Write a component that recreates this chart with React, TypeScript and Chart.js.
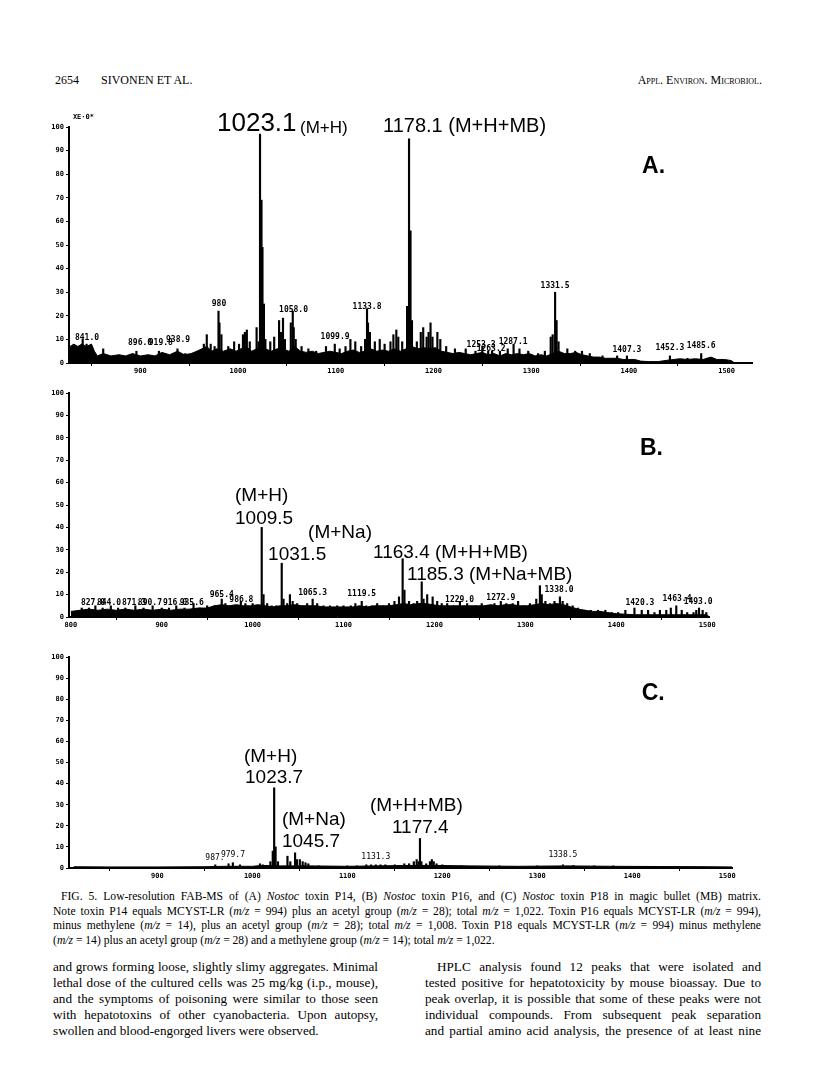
import React, { useEffect, useRef } from "react";
import { Chart, registerables } from "chart.js";
Chart.register(...registerables);

// ---------- shared axis values ----------
const yTicks = [0, 10, 20, 30, 40, 50, 60, 70, 80, 90, 100];
const xTicksA = [900, 1000, 1100, 1200, 1300, 1400, 1500];
const xTicksB = [800, 900, 1000, 1100, 1200, 1300, 1400, 1500];
const xTicksC = [900, 1000, 1100, 1200, 1300, 1400, 1500];
const xRangeA = [827, 1526];
const xRangeB = [798, 1502];
const xRangeC = [807, 1505];

// ---------- Panel A: Nostoc toxin P14 ----------
const peaksA: [number, number][] = [
  [841, 10], [845, 8], [862, 6], [896, 5], [919, 5], [925, 4], [938, 6], [946, 4], [958, 5],
  [965, 8], [968, 12], [972, 8], [976, 7], [980, 22], [981, 17], [983, 12], [990, 7], [996, 9],
  [1001, 8], [1005, 12], [1007, 13], [1009, 14], [1012, 9], [1019, 15], [1021, 9], [1022.5, 97],
  [1024, 69], [1025, 49], [1026.5, 25], [1028, 10], [1033, 9], [1037, 11], [1042, 18], [1044, 13],
  [1046, 19], [1048, 10], [1054, 17], [1056, 22], [1057, 15], [1059, 10], [1065, 7], [1072, 6],
  [1080, 5], [1090, 7], [1099, 8], [1104, 6], [1110, 7], [1115, 10], [1120, 9], [1126, 7],
  [1130, 10], [1132, 23], [1133, 17], [1135, 13], [1140, 9], [1145, 10], [1150, 8], [1156, 9],
  [1159, 12], [1162, 14], [1164, 11], [1168, 9], [1173, 24], [1174, 14], [1175, 95], [1176.5, 56],
  [1178, 18], [1183, 9], [1187, 13], [1189.5, 15], [1193, 11], [1195, 13], [1197, 17], [1199, 11],
  [1204, 13], [1207, 10], [1213, 7], [1222, 6], [1233, 6], [1243, 5], [1250, 7], [1256, 5],
  [1260, 5], [1268, 5], [1276, 6], [1282, 8], [1288, 6], [1297, 5], [1307, 4], [1314, 5],
  [1320, 11], [1322, 12], [1324.5, 30], [1326, 18], [1328, 9], [1337, 6], [1345, 5], [1352, 5],
  [1360, 4], [1373, 3], [1388, 3], [1398, 3], [1442, 3], [1460, 2], [1474, 4], [1480, 2],
];
const baselineA: [number, number][] = [
  [828, 7], [832, 8], [836, 7], [840, 8], [845, 7], [850, 8], [853, 5], [856, 3], [862, 4],
  [870, 3], [878, 3.5], [885, 3], [892, 4], [900, 3], [908, 3.5], [915, 3], [922, 4.5],
  [930, 3.5], [938, 5], [945, 3.5], [952, 4], [958, 5], [963, 6], [968, 7], [973, 5], [978, 6],
  [985, 5], [992, 6], [998, 5], [1003, 6], [1008, 7], [1014, 5], [1019, 6], [1023, 7],
  [1028, 6], [1034, 5], [1040, 6], [1046, 6], [1052, 5], [1058, 7], [1064, 5], [1070, 4.5],
  [1076, 5], [1082, 4], [1088, 4.5], [1094, 5], [1100, 4.5], [1106, 4], [1112, 5], [1118, 5.5],
  [1124, 4.5], [1130, 5], [1136, 6], [1142, 5], [1148, 5.5], [1154, 5], [1160, 6], [1166, 5],
  [1172, 6], [1178, 7], [1184, 6], [1190, 6.5], [1196, 6], [1202, 6.5], [1208, 5], [1214, 4.5],
  [1220, 4], [1226, 4.5], [1232, 4], [1238, 3.5], [1244, 4], [1250, 4.5], [1256, 3.5], [1262, 4],
  [1268, 3], [1274, 4], [1280, 3.5], [1286, 4], [1292, 3.5], [1298, 4], [1304, 3], [1310, 3.5],
  [1316, 3], [1322, 4], [1328, 5], [1334, 4], [1340, 4], [1346, 4.5], [1352, 3.5], [1358, 3],
  [1364, 2.5], [1370, 2.5], [1376, 2], [1382, 2], [1388, 2], [1394, 1.5], [1400, 1.5],
  [1406, 1.5], [1412, 0.8], [1420, 0.6], [1430, 0.6], [1440, 1.2], [1446, 1.5], [1452, 1.8],
  [1460, 1.5], [1468, 1.8], [1476, 1.5], [1484, 2.5], [1490, 1.5], [1498, 1.5], [1505, 1],
  [1508, 0],
];
const labelsA = [
  { text: "1023.1", mz: 978.5, level: 98.3, kind: "huge" },
  { text: "(M+H)", mz: 1063.4, level: 97.5, kind: "sub" },
  { text: "1178.1 (M+H+MB)", mz: 1148.4, level: 97.9, kind: "main" },
  { text: "A.", mz: 1413.5, level: 80.5, kind: "panel" },
  { text: "XE·0*", mz: 831, level: 103.4, kind: "note" },
  { text: "841.0", mz: 845.4, level: 9.7, kind: "small" },
  { text: "896.0", mz: 899.7, level: 7.6, kind: "small" },
  { text: "919.8", mz: 921, level: 7.6, kind: "small" },
  { text: "938.9", mz: 938.6, level: 9, kind: "small" },
  { text: "980", mz: 980.5, level: 24.3, kind: "small" },
  { text: "1058.0", mz: 1056.8, level: 21.6, kind: "small" },
  { text: "1099.9", mz: 1099.3, level: 10, kind: "small" },
  { text: "1133.8", mz: 1132, level: 22.8, kind: "small" },
  { text: "1253.3", mz: 1248.7, level: 6.9, kind: "small" },
  { text: "1263.2", mz: 1259, level: 5.2, kind: "small" },
  { text: "1287.1", mz: 1281.5, level: 8, kind: "small" },
  { text: "1331.5", mz: 1324.4, level: 31.8, kind: "small" },
  { text: "1407.3", mz: 1398, level: 4.7, kind: "small" },
  { text: "1452.3", mz: 1442, level: 5.5, kind: "small" },
  { text: "1485.6", mz: 1473.9, level: 6.4, kind: "small" },
];

// ---------- Panel B: Nostoc toxin P16 ----------
const peaksB: [number, number][] = [
  [812, 4], [820, 4], [827, 5], [835, 4], [844, 5], [852, 4], [860, 4], [871, 5], [880, 4],
  [890, 5], [900, 4], [908, 4], [916, 5], [925, 4], [935, 6], [942, 4], [950, 5], [958, 5],
  [966, 8], [970, 6], [978, 5], [987, 7], [992, 6], [1000, 6], [1005, 5], [1010, 40], [1012, 10],
  [1016, 6], [1021, 5], [1026, 5], [1032, 24], [1034, 8], [1038, 6], [1041, 10], [1044, 7],
  [1049, 6], [1055, 5], [1060, 6], [1066, 8], [1071, 6], [1078, 5], [1085, 5], [1093, 5],
  [1100, 5], [1108, 5], [1113, 6], [1120, 7], [1125, 5], [1131, 5], [1137, 6], [1143, 5],
  [1150, 6], [1156, 7], [1161, 9], [1165, 26], [1167, 12], [1172, 7], [1177, 6], [1181, 7],
  [1186, 15.7], [1188, 8], [1192, 10], [1198, 9], [1203, 7], [1208, 6], [1214, 6], [1221, 5],
  [1228, 7], [1236, 6], [1245, 5], [1252, 6], [1260, 5], [1266, 6], [1273, 7], [1279, 6],
  [1286, 6], [1292, 7], [1298, 5], [1305, 6], [1312, 8], [1316, 14], [1318, 10], [1322, 7],
  [1327, 6], [1332, 7], [1338, 9], [1341, 7], [1346, 6], [1352, 5], [1358, 4], [1365, 3],
  [1372, 3], [1380, 3], [1388, 3], [1395, 2], [1402, 2], [1410, 3], [1420, 4], [1428, 3],
  [1435, 3], [1442, 2], [1448, 3], [1455, 3], [1460, 4], [1466, 5], [1472, 3], [1478, 2],
  [1485, 2], [1488, 3], [1491, 4], [1495, 3], [1499, 2],
];
const baselineB: [number, number][] = [
  [800, 2.5], [810, 3], [820, 3.5], [830, 3], [840, 3.5], [850, 3], [860, 3.5], [870, 3],
  [880, 3.5], [890, 3], [900, 3.5], [910, 3], [920, 3.5], [930, 3.5], [940, 4], [950, 4],
  [958, 5], [966, 5.5], [974, 5], [982, 5.5], [990, 5], [998, 5], [1006, 5.5], [1014, 5],
  [1022, 4.5], [1030, 5], [1038, 5], [1046, 5.5], [1054, 5], [1062, 5], [1070, 5], [1078, 4.5],
  [1086, 4.5], [1094, 4.5], [1102, 4.5], [1110, 4.5], [1118, 5], [1126, 4.5], [1134, 5],
  [1142, 5], [1150, 5], [1158, 5.5], [1166, 6], [1174, 5.5], [1182, 6], [1190, 6], [1198, 5.5],
  [1206, 5], [1214, 5], [1222, 5], [1230, 5], [1238, 5], [1246, 5], [1254, 5], [1262, 5.5],
  [1270, 5], [1278, 5.5], [1286, 5.5], [1294, 5], [1302, 5], [1310, 5.5], [1318, 6],
  [1326, 5.5], [1334, 6], [1342, 5.5], [1350, 4.5], [1358, 3.5], [1366, 3], [1374, 2.5],
  [1382, 2.5], [1390, 2], [1400, 1.5], [1420, 1], [1440, 1], [1460, 1], [1480, 1], [1500, 1],
  [1502, 0],
];
const labelsB = [
  { text: "(M+H)", mz: 980.6, level: 51.8, kind: "lab" },
  { text: "1009.5", mz: 980.6, level: 41.5, kind: "lab" },
  { text: "(M+Na)", mz: 1061, level: 35.3, kind: "lab" },
  { text: "1031.5", mz: 1017, level: 25.4, kind: "lab" },
  { text: "1163.4 (M+H+MB)", mz: 1132.4, level: 26.3, kind: "lab" },
  { text: "1185.3 (M+Na+MB)", mz: 1169.8, level: 16.5, kind: "lab" },
  { text: "B.", mz: 1426, level: 72.3, kind: "panel" },
  { text: "827.0", mz: 824.4, level: 5.4, kind: "small" },
  { text: "844.0", mz: 842, level: 5.4, kind: "small" },
  { text: "871.3", mz: 869.5, level: 5.4, kind: "small" },
  { text: "890.7", mz: 887, level: 5.4, kind: "small" },
  { text: "916.0", mz: 914.6, level: 5.4, kind: "small" },
  { text: "935.6", mz: 933, level: 5.4, kind: "small" },
  { text: "965.4", mz: 966, level: 9, kind: "small" },
  { text: "986.8", mz: 987.6, level: 6.8, kind: "small" },
  { text: "1065.3", mz: 1066, level: 9.8, kind: "small" },
  { text: "1119.5", mz: 1120, level: 9.4, kind: "small" },
  { text: "1229.0", mz: 1227.6, level: 6.8, kind: "small" },
  { text: "1272.9", mz: 1273, level: 7.6, kind: "small" },
  { text: "1338.0", mz: 1337, level: 11, kind: "small" },
  { text: "1420.3", mz: 1426, level: 5.4, kind: "small" },
  { text: "1463.4", mz: 1466.8, level: 7.1, kind: "small" },
  { text: "1493.0", mz: 1490, level: 5.7, kind: "small" },
];

// ---------- Panel C: Nostoc toxin P18 ----------
const peaksC: [number, number][] = [
  [961, 1.5], [975, 2], [979.5, 2.5], [987, 1.5], [1008, 2], [1011, 1.5], [1019, 3], [1021.5, 8],
  [1023, 38], [1024.5, 10], [1027, 3], [1037, 5.6], [1040, 3], [1045, 7.2], [1047, 4],
  [1050, 4], [1053, 3], [1056, 2.5], [1059, 2], [1070, 1], [1100, 1], [1110, 1], [1120, 1.5],
  [1125, 1.5], [1130, 1.5], [1135, 1.5], [1140, 1.5], [1150, 1.5], [1160, 2], [1165, 2],
  [1170, 3], [1173, 4], [1175, 3], [1176.5, 14], [1178, 3], [1183, 2], [1187, 3], [1189, 4],
  [1191, 3], [1194, 2], [1200, 1.5], [1220, 1], [1260, 1], [1300, 1], [1327, 1.5], [1338, 1.2],
  [1360, 1], [1380, 1],
];
const baselineC: [number, number][] = [
  [812, 0.6], [850, 0.5], [900, 0.5], [950, 0.6], [970, 0.8], [1000, 0.8], [1010, 1.2],
  [1030, 1], [1060, 1], [1100, 0.8], [1130, 1], [1160, 1.2], [1195, 1.2], [1230, 1],
  [1280, 0.8], [1330, 1], [1380, 0.8], [1430, 0.7], [1480, 0.6], [1505, 0.5],
];
const labelsC = [
  { text: "(M+H)", mz: 991.2, level: 50.2, kind: "lab" },
  { text: "1023.7", mz: 992.3, level: 40.3, kind: "lab" },
  { text: "(M+Na)", mz: 1031.2, level: 20.4, kind: "lab" },
  { text: "1045.7", mz: 1031.2, level: 10, kind: "lab" },
  { text: "(M+H+MB)", mz: 1123.8, level: 27, kind: "lab" },
  { text: "1177.4", mz: 1147, level: 16.6, kind: "lab" },
  { text: "C.", mz: 1410, level: 79.6, kind: "panel" },
  { text: "987.", mz: 960.7, level: 3.8, kind: "thin" },
  { text: "979.7", mz: 979.6, level: 5.4, kind: "thin" },
  { text: "1131.3", mz: 1130, level: 4.3, kind: "thin" },
  { text: "1338.5", mz: 1327, level: 5.4, kind: "thin" },
];

const FONTS: Record<string, { font: string; align: CanvasTextAlign }> = {
  huge: { font: '26px "Liberation Sans", Arial, sans-serif', align: "left" },
  sub: { font: '17px "Liberation Sans", Arial, sans-serif', align: "left" },
  main: { font: '20px "Liberation Sans", Arial, sans-serif', align: "left" },
  lab: { font: '19px "Liberation Sans", Arial, sans-serif', align: "left" },
  panel: { font: 'bold 23px "Liberation Sans", Arial, sans-serif', align: "left" },
  note: { font: 'bold 7px "DejaVu Sans Mono", monospace', align: "left" },
  small: { font: 'bold 8px "DejaVu Sans Mono", monospace', align: "center" },
  thin: { font: '8px "DejaVu Sans Mono", monospace', align: "center" },
};

type Spec = {
  peaks: [number, number][];
  baseline: [number, number][];
  labels: { text: string; mz: number; level: number; kind: string }[];
  xRange: number[];
  xTicks: number[];
  padTop: number;
  padRight: number;
  yAxisW: number;
  xAxisH: number;
};

function buildChart(canvas: HTMLCanvasElement, spec: Spec) {
  const annot = {
    id: "annot",
    afterDraw(chart: any) {
      const { ctx } = chart;
      const xs = chart.scales.x;
      const ys = chart.scales.y;
      ctx.save();
      ctx.fillStyle = "#000";
      ctx.textBaseline = "alphabetic";
      for (const l of spec.labels) {
        const f = FONTS[l.kind];
        ctx.font = f.font;
        ctx.textAlign = f.align;
        ctx.fillText(l.text, xs.getPixelForValue(l.mz), ys.getPixelForValue(l.level));
      }
      ctx.restore();
    },
  };
  const tickFont = { family: '"DejaVu Sans Mono", monospace', size: 7, weight: "bold" as const };
  return new Chart(canvas, {
    type: "bar",
    data: {
      datasets: [
        {
          type: "bar",
          data: spec.peaks.map(([x, y]) => ({ x, y })) as any,
          backgroundColor: "#000",
          barThickness: 1.5,
          grouped: false,
          order: 1,
        } as any,
        {
          type: "line",
          data: spec.baseline.map(([x, y]) => ({ x, y })) as any,
          borderColor: "#000",
          backgroundColor: "#000",
          borderWidth: 1,
          pointRadius: 0,
          fill: "origin",
          tension: 0,
          order: 2,
        } as any,
      ],
    },
    options: {
      responsive: false,
      animation: false,
      maintainAspectRatio: false,
      layout: { padding: { top: spec.padTop, right: spec.padRight, left: 0, bottom: 0 } },
      plugins: { legend: { display: false }, tooltip: { enabled: false } },
      scales: {
        x: {
          type: "linear",
          min: spec.xRange[0],
          max: spec.xRange[1],
          offset: false,
          afterBuildTicks: (s: any) => {
            s.ticks = spec.xTicks.map((v) => ({ value: v }));
          },
          afterFit: (s: any) => {
            s.height = spec.xAxisH;
          },
          ticks: {
            font: tickFont,
            color: "#000",
            padding: 1,
            maxRotation: 0,
            autoSkip: false,
            callback: (v: any) => String(v),
          },
          grid: { drawOnChartArea: false, drawTicks: true, tickLength: 3, color: "#000" },
          border: { color: "#000", width: 2 },
        },
        y: {
          type: "linear",
          min: 0,
          max: 100,
          afterBuildTicks: (s: any) => {
            s.ticks = yTicks.map((v) => ({ value: v }));
          },
          afterFit: (s: any) => {
            s.width = spec.yAxisW;
          },
          ticks: { font: tickFont, color: "#000", padding: 2, callback: (v: any) => String(v) },
          grid: { drawOnChartArea: false, drawTicks: true, tickLength: 3, color: "#000" },
          border: { color: "#000", width: 2 },
        },
      },
    },
    plugins: [annot],
  } as any);
}

const serif = '"Liberation Serif", "Times New Roman", serif';

function Line({ left, top, width, size, justify, children }: any) {
  return (
    <div
      style={{
        position: "absolute",
        left,
        top,
        width,
        fontSize: size,
        lineHeight: "16px",
        whiteSpace: "nowrap",
        textAlign: justify ? "justify" : "left",
        textAlignLast: justify ? "justify" : "left",
      } as any}
    >
      {children}
    </div>
  );
}

export default function App() {
  const refA = useRef<HTMLCanvasElement>(null);
  const refB = useRef<HTMLCanvasElement>(null);
  const refC = useRef<HTMLCanvasElement>(null);

  useEffect(() => {
    const a = buildChart(refA.current!, {
      peaks: peaksA, baseline: baselineA, labels: labelsA, xRange: xRangeA, xTicks: xTicksA,
      padTop: 27, padRight: 28, yAxisW: 39, xAxisH: 17,
    });
    const b = buildChart(refB.current!, {
      peaks: peaksB, baseline: baselineB, labels: labelsB, xRange: xRangeB, xTicks: xTicksB,
      padTop: 13, padRight: 71, yAxisW: 39, xAxisH: 18,
    });
    const c = buildChart(refC.current!, {
      peaks: peaksC, baseline: baselineC, labels: labelsC, xRange: xRangeC, xTicks: xTicksC,
      padTop: 17, padRight: 48, yAxisW: 39, xAxisH: 17,
    });
    return () => {
      a.destroy();
      b.destroy();
      c.destroy();
    };
  }, []);

  const i = (t: string) => <i>{t}</i>;
  const mz = <i>m/z</i>;
  const bs = 13.2;

  return (
    <div
      style={{
        position: "absolute",
        left: 0,
        top: 0,
        width: 816,
        height: 1083,
        background: "#fff",
        color: "#000",
        fontFamily: serif,
        overflow: "hidden",
      }}
    >
      <div style={{ position: "absolute", left: 55, top: 73, fontSize: 12, lineHeight: "14px" }}>2654</div>
      <div style={{ position: "absolute", left: 101, top: 73, fontSize: 12, lineHeight: "14px" }}>SIVONEN ET AL.</div>
      <div
        style={{
          position: "absolute",
          right: 54,
          top: 73,
          fontSize: 12,
          lineHeight: "14px",
          fontVariant: "small-caps",
        }}
      >
        Appl. Environ. Microbiol.
      </div>

      <canvas ref={refA} width={750} height={280} style={{ position: "absolute", left: 30, top: 100, width: 750, height: 280 }} />
      <canvas ref={refB} width={750} height={255} style={{ position: "absolute", left: 30, top: 380, width: 750, height: 255 }} />
      <canvas ref={refC} width={750} height={245} style={{ position: "absolute", left: 30, top: 640, width: 750, height: 245 }} />

      <Line left={61} top={889} width={700} size={11.6} justify>
        FIG. 5. Low-resolution FAB-MS of (A) {i("Nostoc")} toxin P14, (B) {i("Nostoc")} toxin P16, and (C) {i("Nostoc")} toxin P18 in magic bullet (MB) matrix.
      </Line>
      <Line left={53} top={904} width={708} size={11.6} justify>
        Note toxin P14 equals MCYST-LR ({mz} = 994) plus an acetyl group ({mz} = 28); total {mz} = 1,022. Toxin P16 equals MCYST-LR ({mz} = 994),
      </Line>
      <Line left={53} top={918} width={708} size={11.6} justify>
        minus methylene ({mz} = 14), plus an acetyl group ({mz} = 28); total {mz} = 1,008. Toxin P18 equals MCYST-LR ({mz} = 994) minus methylene
      </Line>
      <Line left={53} top={933} width={708} size={11.6}>
        ({mz} = 14) plus an acetyl group ({mz} = 28) and a methylene group ({mz} = 14); total {mz} = 1,022.
      </Line>

      <Line left={53} top={959} width={325} size={bs} justify>and grows forming loose, slightly slimy aggregates. Minimal</Line>
      <Line left={53} top={975} width={325} size={bs} justify>lethal dose of the cultured cells was 25 mg/kg (i.p., mouse),</Line>
      <Line left={53} top={991} width={325} size={bs} justify>and the symptoms of poisoning were similar to those seen</Line>
      <Line left={53} top={1007} width={325} size={bs} justify>with hepatotoxins of other cyanobacteria. Upon autopsy,</Line>
      <Line left={53} top={1023} width={325} size={bs}>swollen and blood-engorged livers were observed.</Line>

      <Line left={437} top={959} width={324} size={bs} justify>HPLC analysis found 12 peaks that were isolated and</Line>
      <Line left={425} top={975} width={336} size={bs} justify>tested positive for hepatotoxicity by mouse bioassay. Due to</Line>
      <Line left={425} top={991} width={336} size={bs} justify>peak overlap, it is possible that some of these peaks were not</Line>
      <Line left={425} top={1007} width={336} size={bs} justify>individual compounds. From subsequent peak separation</Line>
      <Line left={425} top={1023} width={336} size={bs} justify>and partial amino acid analysis, the presence of at least nine</Line>
    </div>
  );
}
